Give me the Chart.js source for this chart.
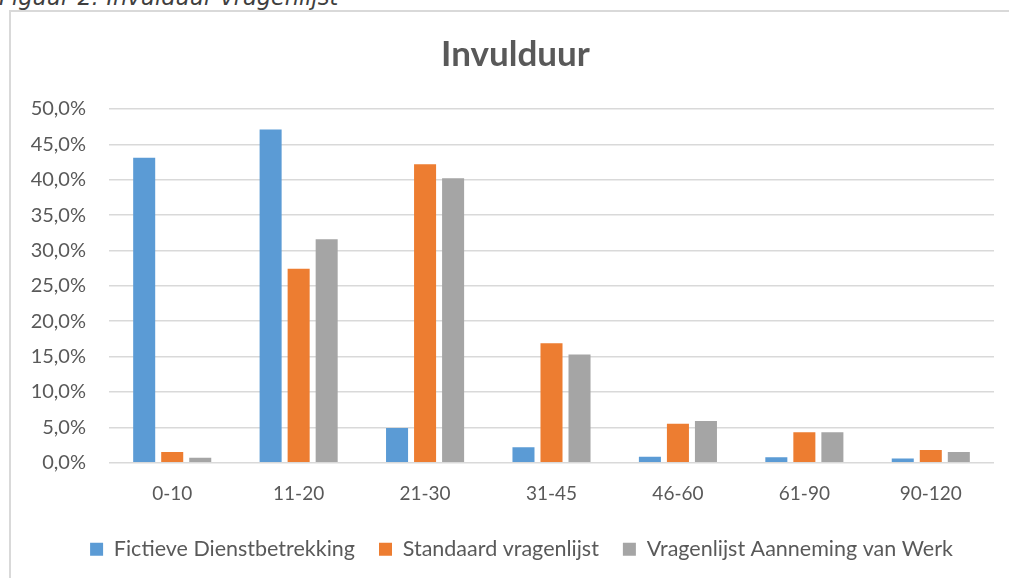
<!DOCTYPE html>
<html>
<head>
<meta charset="utf-8">
<script src="https://cdn.jsdelivr.net/npm/chart.js@4"></script>
<style>
  body { margin: 0; background: #fff; overflow: hidden; }
  #caption {
    position: absolute; left: -1px; top: -16px;
    font: oblique 22.5px "DejaVu Sans", sans-serif; color: #3f3f3f;
    white-space: nowrap;
  }
  #frame {
    position: absolute; left: 9px; top: 10px; width: 1010px; height: 580px;
    border: 2px solid #d9d9d9; box-sizing: border-box;
  }
  #wrap { position: absolute; left: 11px; top: 12px; width: 998px; height: 566px; }
</style>
</head>
<body>
<div id="caption">Figuur 2: Invulduur vragenlijst</div>
<div id="frame"></div>
<div id="wrap"><canvas id="barChart"></canvas></div>
<script>
const categories = ["0-10", "11-20", "21-30", "31-45", "46-60", "61-90", "90-120"];
const fictieve = [43.1, 47.1, 4.9, 2.2, 0.85, 0.76, 0.6];
const standaard = [1.5, 27.4, 42.2, 16.9, 5.5, 4.3, 1.8];
const aanneming = [0.7, 31.6, 40.2, 15.3, 5.9, 4.3, 1.5];
const seriesNames = ["Fictieve Dienstbetrekking", "Standaard vragenlijst", "Vragenlijst Aanneming van Werk"];

const textColor = "#595959";
const fontFamily = "Lato, 'Open Sans', sans-serif";

// title and legend sit centred on the whole frame, not on the plot
const shiftCenter = {
  id: "shiftCenter",
  afterLayout(chart) {
    chart.titleBlock.left += 13;
    chart.titleBlock.right += 13;
    chart.legend.left += 19;
    chart.legend.right += 19;
  },
};

const barCtx = document.getElementById("barChart").getContext("2d");
new Chart(barCtx, {
  type: "bar",
  data: {
    labels: categories,
    datasets: [
      { label: seriesNames[0], data: fictieve, backgroundColor: "#5b9bd5" },
      { label: seriesNames[1], data: standaard, backgroundColor: "#ed7d31" },
      { label: seriesNames[2], data: aanneming, backgroundColor: "#a5a5a5" },
    ],
  },
  plugins: [shiftCenter],
  options: {
    responsive: true,
    maintainAspectRatio: false,
    animation: false,
    categoryPercentage: 0.665,
    barPercentage: 0.786,
    layout: { padding: { left: 0, right: 15, top: 0, bottom: 8 } },
    plugins: {
      title: {
        display: true,
        text: "Invulduur",
        color: textColor,
        font: { family: fontFamily, size: 35, weight: "bold" },
        padding: { top: 22, bottom: 33 },
      },
      legend: {
        position: "bottom",
        labels: {
          color: textColor,
          font: { family: fontFamily, size: 21.5 },
          boxWidth: 13,
          boxHeight: 13,
          padding: 24,
        },
      },
      tooltip: { enabled: false },
    },
    scales: {
      x: {
        afterFit: (scale) => { scale.height -= 11; },
        grid: { display: false, drawTicks: false },
        border: { display: false },
        ticks: { color: textColor, font: { family: fontFamily, size: 19 }, padding: 20 },
      },
      y: {
        min: 0,
        max: 50,
        afterFit: (scale) => { scale.width = 98; },
        grid: { color: "#d9d9d9", lineWidth: 1.5, drawTicks: false },
        border: { display: false },
        ticks: {
          stepSize: 5,
          padding: 23,
          color: textColor,
          font: { family: fontFamily, size: 20 },
          callback: (v) => v.toFixed(1).replace(".", ",") + "%",
        },
      },
    },
  },
});
</script>
</body>
</html>
